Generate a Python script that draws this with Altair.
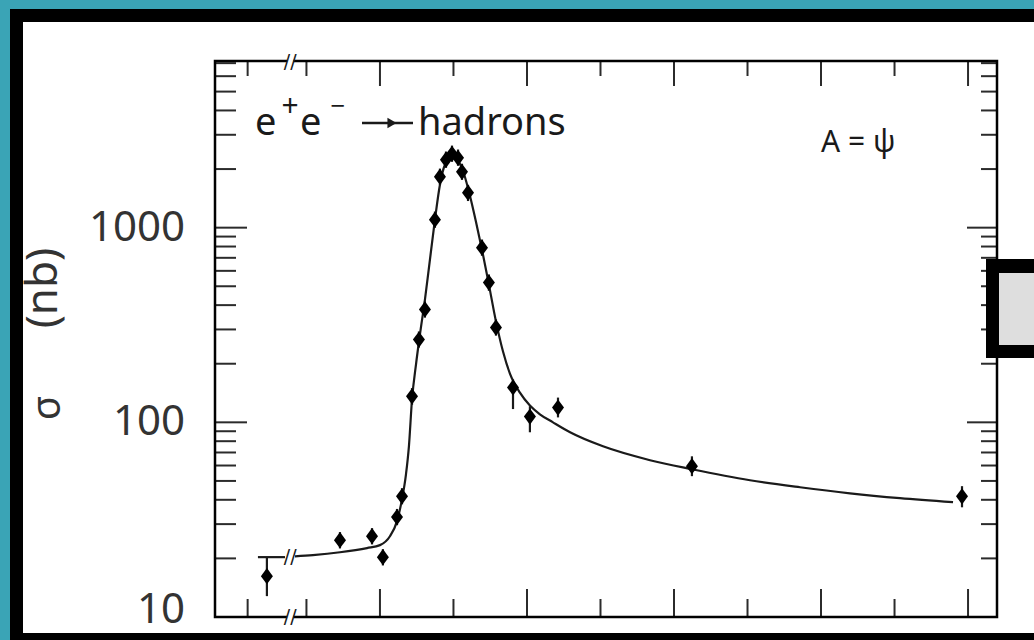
import altair as alt
import pandas as pd

# ---------------- data ----------------
# measured cross-section points: energy (GeV), sigma (nb), error low/high
pt_E = [3.08231, 3.08728, 3.08946, 3.09020, 3.09116, 3.09150, 3.09218, 3.09265,
        3.09306, 3.09374, 3.09408, 3.09449, 3.09490, 3.09531, 3.09558, 3.09599,
        3.09694, 3.09741, 3.09789, 3.09905, 3.10020, 3.10211, 3.11122, 3.12959]
pt_sigma = [16.2, 24.8, 26.0, 20.3, 32.6, 41.7, 136, 266,
            380, 1099, 1826, 2233, 2396, 2286, 1937, 1512,
            789, 522, 307, 151, 107, 119, 59.5, 41.7]
pt_lo = [12.8, 22.5, 23.6, 18.4, 29.6, 37.9, 123, 242,
         345, 998, 1660, 2030, 2180, 2080, 1760, 1370,
         717, 474, 279, 117, 88.9, 106, 52.9, 36.6]
pt_hi = [20.3, 27.3, 28.6, 22.3, 35.9, 45.9, 150, 293,
         418, 1210, 2010, 2460, 2640, 2520, 2130, 1660,
         869, 575, 338, 166, 121, 134, 66.9, 47.0]

# fitted curve (two pieces either side of the axis break)
curve_seg = ["a", "a"] + ["b"] * 41
curve_E = [3.08170, 3.08354,
           3.08422, 3.08544, 3.08728, 3.08912, 3.09000, 3.09068, 3.09116, 3.09150,
           3.09177, 3.09197, 3.09218, 3.09245, 3.09272, 3.09306, 3.09340, 3.09374,
           3.09408, 3.09442, 3.09490, 3.09531, 3.09571, 3.09612, 3.09653, 3.09694,
           3.09741, 3.09789, 3.09837, 3.09884, 3.09952, 3.10020, 3.10088, 3.10177,
           3.10293, 3.10517, 3.10837, 3.11122, 3.11517, 3.11857, 3.12197, 3.12537,
           3.12898]
curve_sigma = [20.3, 20.3,
               20.5, 20.8, 21.5, 22.6, 23.4, 26.0, 31.1, 40.3,
               54.1, 75.3, 131, 198, 283, 427, 685, 1099,
               1662, 2104, 2312, 2206, 1892, 1459, 1073, 771,
               510, 330, 231, 178, 142, 122, 110, 100,
               88.9, 75.3, 63.9, 57.4, 50.4, 46.4, 43.2, 40.8,
               38.9]

# axis ticks
x_major = [3.09, 3.10, 3.11, 3.12, 3.13]
x_minor = [3.081, 3.085, 3.095, 3.105, 3.115, 3.125]
y_major = [10, 100, 1000]
y_minor = [20, 30, 40, 50, 60, 70, 80, 90,
           200, 300, 400, 500, 600, 700, 800, 900,
           2000, 3000, 4000, 5000, 6000, 7000]
y_labels_upper = ["100", "1000"]
y_labels_upper_at = [100, 1000]
y_label_bottom = ["10"]
y_label_bottom_at = [10]
x_break = [3.0839]
curve_break_sigma = [20.4]

# ---------------- layout / style ----------------
W, H = 782, 556
TEAL = "#3aa4b6"
INK = "#1a1a1a"
LABEL = "#333333"
FONT = "Noto Sans"

xs = alt.Scale(domain=[3.07878, 3.13197], nice=False, zero=False)
ys = alt.Scale(type="log", domain=[10, 7180], nice=False)

pts = pd.DataFrame({"E": pt_E, "s": pt_sigma, "lo": pt_lo, "hi": pt_hi})
crv = pd.DataFrame({"E": curve_E, "s": curve_sigma, "seg": curve_seg})
one = pd.DataFrame({"k": [0]})
xmaj = pd.DataFrame({"E": x_major})
xmin = pd.DataFrame({"E": x_minor})
ymaj = pd.DataFrame({"s": y_major})
ymin = pd.DataFrame({"s": y_minor})
ylab_up = pd.DataFrame({"s": y_labels_upper_at, "lab": y_labels_upper})
ylab_bot = pd.DataFrame({"s": y_label_bottom_at, "lab": y_label_bottom})
brk = pd.DataFrame({"E": x_break, "s": curve_break_sigma})

X = lambda f="E": alt.X(f"{f}:Q", scale=xs, axis=None)
Y = lambda f="s": alt.Y(f"{f}:Q", scale=ys, axis=None)

# outer black frame and white sheet
black = alt.Chart(one).mark_rect(color="black").encode(
    x=alt.value(-205), x2=alt.value(W + 40), y=alt.value(-52), y2=alt.value(H + 40))
sheet = alt.Chart(one).mark_rect(color="white").encode(
    x=alt.value(-192), x2=alt.value(W + 40), y=alt.value(-39), y2=alt.value(H + 16))

tick_style = dict(color="#2b2b2b", strokeWidth=2)
left_major = alt.Chart(ymaj).mark_rule(**tick_style).encode(
    y=Y(), x=alt.value(0), x2=alt.value(32))
left_minor = alt.Chart(ymin).mark_rule(**tick_style).encode(
    y=Y(), x=alt.value(0), x2=alt.value(21))
right_major = alt.Chart(ymaj).mark_rule(**tick_style).encode(
    y=Y(), x=alt.value(W - 30), x2=alt.value(W))
right_minor = alt.Chart(ymin).mark_rule(**tick_style).encode(
    y=Y(), x=alt.value(W - 16), x2=alt.value(W))
top_major = alt.Chart(xmaj).mark_rule(**tick_style).encode(
    x=X(), y=alt.value(0), y2=alt.value(25))
top_minor = alt.Chart(xmin).mark_rule(**tick_style).encode(
    x=X(), y=alt.value(0), y2=alt.value(15))
bot_major = alt.Chart(xmaj).mark_rule(**tick_style).encode(
    x=X(), y=alt.value(H - 28), y2=alt.value(H))
bot_minor = alt.Chart(xmin).mark_rule(**tick_style).encode(
    x=X(), y=alt.value(H - 18), y2=alt.value(H))

frame = alt.Chart(one).mark_rect(fill="white", fillOpacity=0, stroke="black",
                                 strokeWidth=2.5).encode(
    x=alt.value(0), x2=alt.value(W), y=alt.value(0), y2=alt.value(H))

line = alt.Chart(crv).mark_line(color=INK, strokeWidth=2.2, interpolate="monotone").encode(
    x=X(), y=Y(), detail="seg:N")

errs = alt.Chart(pts).mark_rule(color=INK, strokeWidth=2.2).encode(
    x=X(), y=Y("lo"), y2="hi:Q")

dots = alt.Chart(pts).mark_point(
    shape="M0,-1.15L0.85,0L0,1.15L-0.85,0Z", filled=True, opacity=1,
    color="black", size=200).encode(x=X(), y=Y())

# axis-break marks: white gap plus two slanted strokes
brk_gap_top = alt.Chart(brk).mark_point(shape="square", filled=True, opacity=1,
                                        color="white", size=40).encode(
    x=X(), y=alt.value(0))
brk_gap_bot = alt.Chart(brk).mark_point(shape="square", filled=True, opacity=1,
                                        color="white", size=40).encode(
    x=X(), y=alt.value(H))
brk_gap_crv = alt.Chart(brk).mark_point(shape="square", filled=True, opacity=1,
                                        color="white", size=40).encode(
    x=X(), y=Y())
brk_style = dict(text="//", font="DejaVu Sans", fontSize=19, color=INK,
                 baseline="middle", align="center")
brk_cut_top = alt.Chart(brk).mark_text(**brk_style).encode(x=X(), y=alt.value(1))
brk_cut_bot = alt.Chart(brk).mark_text(**brk_style).encode(x=X(), y=alt.value(H))
brk_curve = alt.Chart(brk).mark_text(**brk_style).encode(x=X(), y=Y())

# tick labels and axis title
lab_style = dict(font=FONT, fontSize=42, color=LABEL, align="right", baseline="middle")
ylab = alt.Chart(ylab_up).mark_text(**lab_style).encode(
    y=Y(), x=alt.value(-30), text="lab:N")
ylab10 = alt.Chart(ylab_bot).mark_text(dy=-7, **lab_style).encode(
    y=Y(), x=alt.value(-30), text="lab:N")
sig = alt.Chart(one).mark_text(text="σ", font=FONT, fontSize=40, color=LABEL,
                               angle=270, align="center", baseline="middle").encode(
    x=alt.value(-167), y=alt.value(347))
nb = alt.Chart(one).mark_text(text="(nb)", font=FONT, fontSize=44, color=LABEL,
                              angle=270, align="center", baseline="middle").encode(
    x=alt.value(-171), y=alt.value(227))

# annotation "e+e- -> hadrons" and "A = psi"
txt = dict(font=FONT, color=INK)
e1 = alt.Chart(one).mark_text(text="e", fontSize=38, align="left", baseline="alphabetic", **txt).encode(
    x=alt.value(40), y=alt.value(74))
plus = alt.Chart(one).mark_text(text="+", fontSize=30, align="center", baseline="middle", **txt).encode(
    x=alt.value(75), y=alt.value(46))
e2 = alt.Chart(one).mark_text(text="e", fontSize=38, align="left", baseline="alphabetic", **txt).encode(
    x=alt.value(85), y=alt.value(74))
minus = alt.Chart(one).mark_text(text="−", fontSize=26, align="center", baseline="middle", **txt).encode(
    x=alt.value(123), y=alt.value(46))
arrow_line = alt.Chart(one).mark_rule(color=INK, strokeWidth=2.5).encode(
    x=alt.value(147), x2=alt.value(198), y=alt.value(62))
arrow_head = alt.Chart(one).mark_point(shape="triangle-right", filled=True, opacity=1,
                                       color=INK, size=110).encode(
    x=alt.value(177), y=alt.value(62))
hadrons = alt.Chart(one).mark_text(text="hadrons", fontSize=38, align="left",
                                   baseline="alphabetic", **txt).encode(
    x=alt.value(203), y=alt.value(74))
apsi = alt.Chart(one).mark_text(text="A = ψ", fontSize=30, align="left",
                                baseline="alphabetic", **txt).encode(
    x=alt.value(606), y=alt.value(91))

# small boxed panel at the right edge
box_outer = alt.Chart(one).mark_rect(color="black").encode(
    x=alt.value(771), x2=alt.value(W + 40), y=alt.value(198), y2=alt.value(297))
box_inner = alt.Chart(one).mark_rect(color="#dedede").encode(
    x=alt.value(784), x2=alt.value(W + 40), y=alt.value(212), y2=alt.value(284))

chart = alt.layer(
    black, sheet,
    left_major, left_minor, right_major, right_minor,
    top_major, top_minor, bot_major, bot_minor,
    line, errs, dots, frame,
    brk_gap_top, brk_gap_bot, brk_gap_crv,
    brk_cut_top, brk_cut_bot, brk_curve,
    ylab, ylab10, sig, nb,
    e1, plus, e2, minus, arrow_line, arrow_head, hadrons, apsi,
    box_outer, box_inner,
).properties(
    width=W, height=H,
    padding={"left": 215, "top": 61, "right": 37, "bottom": 23},
    autosize=alt.AutoSizeParams(type="none"),
).configure(background=TEAL).configure_view(stroke=None)

chart.save("out.html", embed_options={"renderer": "svg", "actions": False})
